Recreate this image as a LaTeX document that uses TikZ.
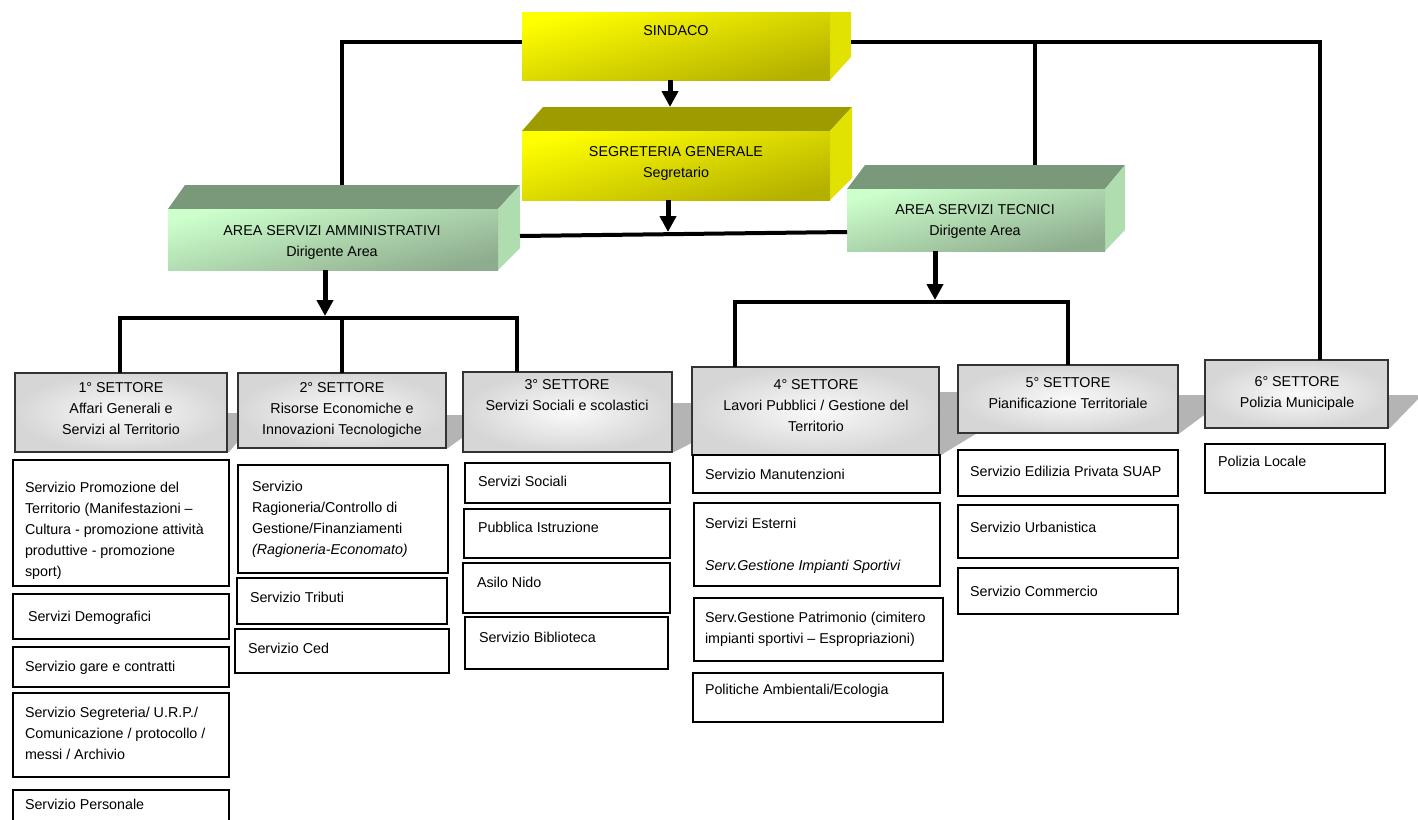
\documentclass[tikz,border=0pt]{standalone}
\usepackage{fontspec}
\setmainfont{Liberation Sans}
\usetikzlibrary{arrows.meta}
\definecolor{yel}{HTML}{FFFF00}
\definecolor{yeld}{HTML}{B4B000}
\definecolor{yelside}{HTML}{E2E200}
\definecolor{yeltop}{HTML}{9C9C00}
\definecolor{grn}{HTML}{CCFFCC}
\definecolor{grnd}{HTML}{8EAC8E}
\definecolor{grnside}{HTML}{B0DDB0}
\definecolor{grntop}{HTML}{7A987A}
\definecolor{shadowc}{HTML}{B4B4B4}
\newcommand\mkbox[6]{\node[#6, anchor=north west, minimum width={(#4-#2)*1pt}, minimum height={(#5-#3)*1pt}] (#1) at (#2,#3) {};}
\begin{document}
\begin{tikzpicture}[x=1pt,y=-1pt,
  every node/.style={font=\fontsize{14.3}{20.8}\selectfont, inner sep=0pt, outer sep=0pt},
  conn/.style={line width=4pt, black},
  arr/.style={line width=5pt, black, -{Triangle[length=16pt,width=16pt]}},
  yfront/.style={shade, top color=yel, bottom color=yeld, shading angle=14},
  gfront/.style={shade, top color=grn, bottom color=grnd, shading angle=14},
  settbox/.style={shade, inner color=gray!4, outer color=gray!32, draw=black!80, line width=1.3pt},
  svcbox/.style={draw=black, line width=1.3pt, fill=white},
  ctxt/.style={align=center, anchor=north},
  ltxt/.style={align=left, anchor=north west}]
\useasboundingbox (0,0) rectangle (1418,819);

% shadows behind settore boxes
\fill[shadowc] (227,413) -- (262,413) -- (229,452) -- (227,452) -- cycle;
\fill[shadowc] (446,415) -- (494,415) -- (448,448) -- (446,448) -- cycle;
\fill[shadowc] (672,403) -- (770,403) -- (674,452) -- (672,452) -- cycle;
\fill[shadowc] (939,392) -- (1045,392) -- (941,455) -- (939,455) -- cycle;
\fill[shadowc] (1178,395) -- (1231,395) -- (1180,433) -- (1178,433) -- cycle;
\fill[shadowc] (1388,395) -- (1422,395) -- (1390,428) -- (1388,428) -- cycle;

% 3D boxes: SINDACO
\fill[yelside] (830,12) -- (851,12) -- (851,57) -- (830,80) -- cycle;
\mkbox{sind}{522}{12}{830}{80}{yfront}
% SEGRETERIA
\fill[yeltop] (522,131) -- (543,107) -- (852,107) -- (830,131) -- cycle;
\fill[yelside] (830,131) -- (852,107) -- (852,178) -- (830,200) -- cycle;
\mkbox{seg}{522}{131}{830}{200}{yfront}
% AREA AMMINISTRATIVI
\fill[grntop] (168,209) -- (185,185) -- (520,185) -- (498,209) -- cycle;
\fill[grnside] (498,209) -- (520,185) -- (520,248) -- (498,270) -- cycle;
\mkbox{aam}{168}{209}{498}{270}{gfront}
% AREA TECNICI
\fill[grntop] (847,189) -- (865,165) -- (1125,165) -- (1105,189) -- cycle;
\fill[grnside] (1105,189) -- (1125,165) -- (1125,230) -- (1105,251) -- cycle;
\mkbox{atec}{847}{189}{1105}{251}{gfront}

% settore boxes
\mkbox{s1}{15}{373}{227}{452}{settbox}
\mkbox{s2}{238}{373}{446}{448}{settbox}
\mkbox{s3}{463}{372}{672}{452}{settbox}
\mkbox{s4}{692}{367}{939}{455}{settbox}
\mkbox{s5}{958}{365}{1178}{433}{settbox}
\mkbox{s6}{1205}{360}{1388}{428}{settbox}

% connectors
\coordinate (jL) at (342,42);
\coordinate (aamtop) at (342,185);
\coordinate (sindR) at (851,42);
\coordinate (jT) at (1035,42);
\coordinate (jR) at (1320,42);
\coordinate (atectop) at (1035,165);
\coordinate (segtop) at (670,107);
\coordinate (aamR) at (520,236);
\coordinate (midtip) at (668,232);
\coordinate (b1) at (325,316);
\coordinate (b1L) at (120,318);
\coordinate (b1M) at (342,318);
\coordinate (b1R) at (517,318);
\coordinate (b2) at (935,300);
\coordinate (b2L) at (735,302);
\coordinate (b2R) at (1068,302);

\draw[conn] (sind.west |- jL) -- (jL) -- (aamtop);
\draw[conn] (sindR) -- (jR) -- (s6.north -| jR);
\draw[conn] (jT) -- (atectop);
\draw[arr] (sind.south -| segtop) -- (segtop);
\draw[conn] (aamR) -- ([yshift=-12pt]atec.west);
\draw[arr] (seg.south -| midtip) -- (midtip);
\draw[arr] (aam.south -| b1) -- (b1);
\draw[conn] (s1.north -| b1L) -- (b1L) -- (b1R) -- (s3.north -| b1R);
\draw[conn] (b1M) -- (s2.north -| b1M);
\draw[arr] (atec.south -| b2) -- (b2);
\draw[conn] (s4.north -| b2L) -- (b2L) -- (b2R) -- (s5.north -| b2R);

% header texts
\node (tsind) at (676,31) {SINDACO};
\node[ctxt] (tseg) at (676,146.5) {SEGRETERIA GENERALE\\Segretario};
\node[ctxt] (taam) at (332,225.5) {AREA SERVIZI AMMINISTRATIVI\\Dirigente Area};
\node[ctxt] (tatec) at (975,204.5) {AREA SERVIZI TECNICI\\Dirigente Area};

% settore texts
\node[ctxt] (ts1) at (121,382.5) {1° SETTORE\\Affari Generali e\\Servizi al Territorio};
\node[ctxt] (ts2) at (342,382.5) {2° SETTORE\\Risorse Economiche e\\Innovazioni Tecnologiche};
\node[ctxt] (ts3) at (567,379.5) {3° SETTORE\\Servizi Sociali e scolastici};
\node[ctxt] (ts4) at (816,379.5) {4° SETTORE\\Lavori Pubblici / Gestione del\\Territorio};
\node[ctxt] (ts5) at (1068,377.5) {5° SETTORE\\Pianificazione Territoriale};
\node[ctxt] (ts6) at (1297,376.5) {6° SETTORE\\Polizia Municipale};

% service boxes
\mkbox{bA}{13}{460}{229}{586}{svcbox}
\mkbox{bB}{13}{594}{229}{639}{svcbox}
\mkbox{bC}{13}{647}{229}{687}{svcbox}
\mkbox{bD}{13}{693}{229}{777}{svcbox}
\mkbox{bE}{13}{790}{229}{830}{svcbox}
\mkbox{bF}{238}{465}{448}{573}{svcbox}
\mkbox{bG}{237}{578}{447}{624}{svcbox}
\mkbox{bH}{235}{629}{449}{673}{svcbox}
\mkbox{bI}{465}{463}{670}{503}{svcbox}
\mkbox{bJ}{464}{509}{670}{558}{svcbox}
\mkbox{bK}{463}{563}{670}{613}{svcbox}
\mkbox{bL}{465}{617}{668}{669}{svcbox}
\mkbox{bM}{693}{455}{940}{493}{svcbox}
\mkbox{bN}{694}{503}{940}{586}{svcbox}
\mkbox{bO}{694}{598}{943}{661}{svcbox}
\mkbox{bP}{693}{673}{943}{722}{svcbox}
\mkbox{bQ}{958}{450}{1178}{496}{svcbox}
\mkbox{bR}{958}{505}{1178}{558}{svcbox}
\mkbox{bS}{958}{568}{1178}{614}{svcbox}
\mkbox{bT}{1205}{444}{1385}{493}{svcbox}

% service texts
\node[ltxt] (tA) at (25,482.5) {Servizio Promozione del\\Territorio (Manifestazioni –\\Cultura - promozione attività\\produttive - promozione\\sport)};
\node[ltxt] (tB) at (28,611.5) {Servizi Demografici};
\node[ltxt] (tC) at (25,661.5) {Servizio gare e contratti};
\node[ltxt] (tD) at (25,707.5) {Servizio Segreteria/ U.R.P./\\Comunicazione / protocollo /\\messi / Archivio};
\node[ltxt] (tE) at (25,799.5) {Servizio Personale};
\node[ltxt] (tF) at (252,481.5) {Servizio\\Ragioneria/Controllo di\\Gestione/Finanziamenti\\\textit{(Ragioneria-Economato)}};
\node[ltxt] (tG) at (250,592.5) {Servizio Tributi};
\node[ltxt] (tH) at (248,643.5) {Servizio Ced};
\node[ltxt] (tI) at (478,476.5) {Servizi Sociali};
\node[ltxt] (tJ) at (478,522.5) {Pubblica Istruzione};
\node[ltxt] (tK) at (477,577.5) {Asilo Nido};
\node[ltxt] (tL) at (479,632.5) {Servizio Biblioteca};
\node[ltxt] (tM) at (705,469.5) {Servizio Manutenzioni};
\node[ltxt] (tN) at (705,518.5) {Servizi Esterni\\[20.8pt]\textit{Serv.Gestione Impianti Sportivi}};
\node[ltxt] (tO) at (705,612.5) {Serv.Gestione Patrimonio (cimitero\\impianti sportivi – Espropriazioni)};
\node[ltxt] (tP) at (705,684.5) {Politiche Ambientali/Ecologia};
\node[ltxt] (tQ) at (970,466.5) {Servizio Edilizia Privata SUAP};
\node[ltxt] (tR) at (970,522.5) {Servizio Urbanistica};
\node[ltxt] (tS) at (970,586.5) {Servizio Commercio};
\node[ltxt] (tT) at (1218,456.5) {Polizia Locale};
\end{tikzpicture}
\end{document}
